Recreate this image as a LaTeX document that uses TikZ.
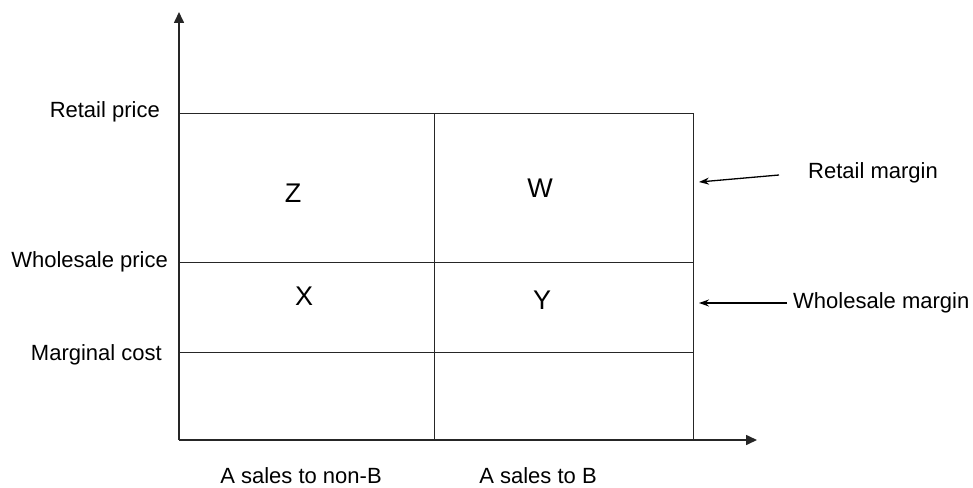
\documentclass[tikz,border=0pt]{standalone}
\usepackage{fontspec}
\setmainfont{Liberation Sans}
\usetikzlibrary{arrows.meta}
\begin{document}
\begin{tikzpicture}[x=1pt,y=-1pt,
  gridline/.style={line width=1pt,black!85},
  axisline/.style={line width=1.6pt,black!85,-{Triangle[length=11pt,width=10pt]}},
  pointer/.style={line width=1.3pt,-{Stealth[length=10pt,width=7pt]}},
  lbl/.style={font=\fontsize{22}{26}\selectfont,inner sep=0pt},
  letter/.style={font=\fontsize{27}{32}\selectfont,inner sep=0pt}]
\useasboundingbox (0,0) rectangle (973,487);
% corners
\coordinate (O) at (179,440);
\coordinate (Ytip) at (179,12);
\coordinate (Xtip) at (757,440);
\coordinate (TL) at (179,113);
\coordinate (TR) at (693,113);
\coordinate (BR) at (693,440);
\coordinate (TM) at (434,113);
\coordinate (BM) at (434,440);
\coordinate (WL) at (179,262);
\coordinate (WR) at (693,262);
\coordinate (ML) at (179,352);
\coordinate (MR) at (693,352);
% grid
\draw[gridline] (TL) -- (TR) -- (BR);
\draw[gridline] (TM) -- (BM);
\draw[gridline] (WL) -- (WR);
\draw[gridline] (ML) -- (MR);
% axes
\draw[axisline] (O) -- (Ytip);
\draw[axisline] (O) -- (Xtip);
% axis labels
\node[lbl,anchor=east] (rp) at (160,112) {Retail price};
\node[lbl,anchor=east] (wp) at (168,262) {Wholesale price};
\node[lbl,anchor=east] (mc) at (162,355) {Marginal cost};
\node[lbl] (nonb) at (301,476) {A sales to non-B};
\node[lbl] (tob) at (538,476) {A sales to B};
% letters
\node[letter] (Z) at (293,193) {Z};
\node[letter] (W) at (540,188) {W};
\node[letter] (X) at (304,296) {X};
\node[letter] (Y) at (542,300) {Y};
% margins
\node[lbl] (rm) at (873,173) {Retail margin};
\node[lbl,anchor=west] (wm) at (793,303) {Wholesale margin};
\coordinate (rmA) at (779,175);
\coordinate (rmB) at (699,182);
\coordinate (wmA) at (787,303);
\coordinate (wmB) at (699,303);
\draw[pointer] (rmA) -- (rmB);
\draw[pointer] (wmA) -- (wmB);
\end{tikzpicture}
\end{document}
